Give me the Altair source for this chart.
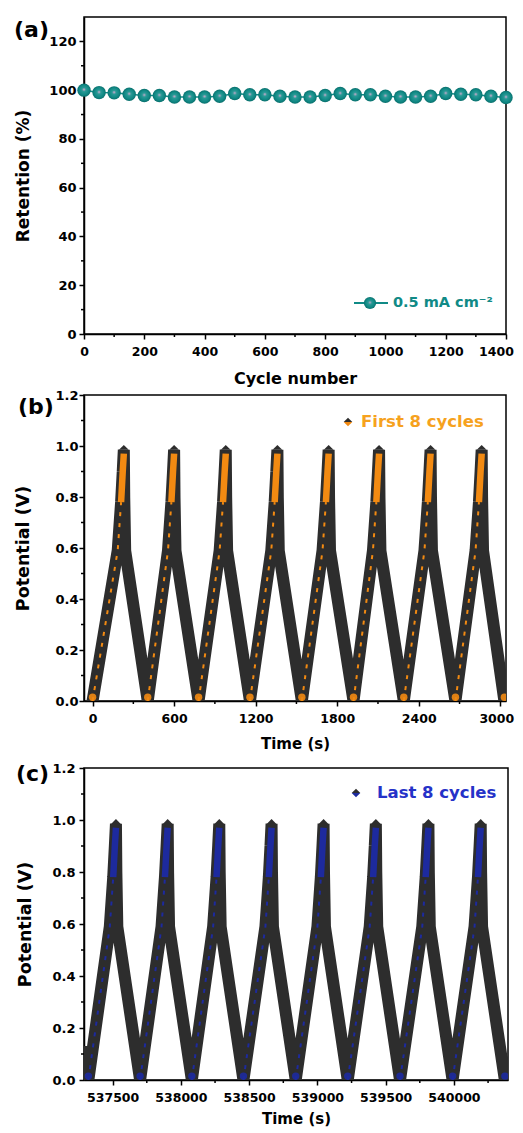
import altair as alt
import pandas as pd

FONT = "DejaVu Sans"
DARK = "#2d2d2d"
TEAL = "#108a86"
ORANGE = "#f28a12"
ORANGE_TXT = "#f6a21e"
NAVY = "#1d2a9e"
BLUE_TXT = "#2532c8"

# ---------------- panel (a): retention ----------------
cycle_a = [0, 50, 100, 150, 200, 250, 300, 350, 400, 450, 500, 550, 600, 650, 700,
           750, 800, 850, 900, 950, 1000, 1050, 1100, 1150, 1200, 1250, 1300, 1350, 1400]
retention_a = [100.0, 99.0, 98.9, 98.3, 97.8, 97.8, 97.2, 97.2, 97.2, 97.5, 98.6, 98.1,
               98.1, 97.5, 97.2, 97.2, 97.8, 98.6, 98.1, 98.1, 97.5, 97.2, 97.2, 97.5,
               98.6, 98.3, 98.1, 97.5, 97.0]
a_x_ticks = [0, 200, 400, 600, 800, 1000, 1200, 1400]
a_x_minor = [100, 300, 500, 700, 900, 1100, 1300]
a_y_ticks = [0, 20, 40, 60, 80, 100, 120]
a_y_minor = [10, 30, 50, 70, 90, 110]

# ---------------- panel (b): first 8 cycles ----------------
b_peak_t = [230, 600, 980, 1360, 1737, 2108, 2487, 2863]
b_trough_t = [0, 406, 780, 1158, 1540, 1920, 2290, 2670, 3030]
b_end = (3045, 0.04)
b_x_ticks = [0, 600, 1200, 1800, 2400, 3000]
b_x_minor = [300, 900, 1500, 2100, 2700]

# ---------------- panel (c): last 8 cycles ----------------
c_start = (537285, 0.13)
c_peak_t = [537524, 537903, 538281, 538664, 539045, 539428, 539813, 540196]
c_trough_t = [537322, 537701, 538080, 538458, 538841, 539222, 539605, 539990, 540373]
c_end = (540400, 0.09)
c_x_ticks = [537500, 538000, 538500, 539000, 539500, 540000]
c_x_minor = [537750, 538250, 538750, 539250, 539750, 540250]

v_ticks = [0.0, 0.2, 0.4, 0.6, 0.8, 1.0, 1.2]
v_minor = [0.1, 0.3, 0.5, 0.7, 0.9, 1.1]

# shape of one charge/discharge cycle read around a peak (time offset from peak, V)
rise_dt = [-45, -20, -8]
rise_v = [0.59, 0.78, 0.90]
peak_v = 0.985
fall_dt = [3, 10]
fall_v = [0.80, 0.59]

TOP_HALF = "M-1,0L0,-1L1,0Z"
BOT_HALF = "M-1,0L1,0L0,1Z"
LEFT = 75  # common left extent of every panel (plot areas share their left edge)


def one():
    return pd.DataFrame({"k": [0]})


def spacer(top, bottom, h):
    return alt.Chart(one()).mark_rule(color="white", strokeOpacity=0).encode(
        x=alt.value(-LEFT), y=alt.value(-top), y2=alt.value(h + bottom))


def label(txt, x, y, size=22, color="black", align="left"):
    return alt.Chart(one()).mark_text(
        text=txt, font=FONT, fontWeight="bold", fontSize=size, color=color,
        align=align, baseline="middle").encode(x=alt.value(x), y=alt.value(y))


def minor_ticks(xvals, yvals, xenc, yenc, h):
    mx = alt.Chart(pd.DataFrame({"x": xvals})).mark_rule(color="black", strokeWidth=1.5).encode(
        x=xenc, y=alt.value(h), y2=alt.value(h + 3))
    my = alt.Chart(pd.DataFrame({"y": yvals})).mark_rule(color="black", strokeWidth=1.5).encode(
        y=yenc, x=alt.value(0), x2=alt.value(-3))
    return mx, my


# ---------------- build panel (a) ----------------
A_W, A_H = 422, 317
ax = alt.X("x:Q", scale=alt.Scale(domain=[0, 1400], nice=False, zero=False),
           axis=alt.Axis(values=a_x_ticks, format="d", title="Cycle number", titleY=44,
                         titleBaseline="middle", titleFontSize=16, labelPadding=6, tickSize=5,
                         labelFlush=False, labelOverlap=False, labelFontSize=12.5,
                         labelOffset=alt.ExprRef("datum.value == 1400 ? -10 : 0")))
ay = alt.Y("y:Q", scale=alt.Scale(domain=[0, 130], nice=False, zero=False),
           axis=alt.Axis(values=a_y_ticks, format="d", title="Retention (%)", titleX=-61,
                         titleY=A_H / 2, titleAngle=270, titleBaseline="middle",
                         titleAlign="center", titleFontSize=17, labelPadding=3, tickSize=5,
                         labelFlush=False, labelOverlap=False))
df_a = pd.DataFrame({"x": cycle_a, "y": retention_a})
sphere = {"gradient": "radial",
          "stops": [{"offset": 0, "color": "#e2aad4"},
                    {"offset": 0.28, "color": "#2a9a96"},
                    {"offset": 0.75, "color": "#0f8884"},
                    {"offset": 1, "color": "#0a6e6b"}],
          "x1": 0.5, "y1": 0.45, "r1": 0, "x2": 0.5, "y2": 0.5, "r2": 0.5}
a_line = alt.Chart(df_a).mark_line(color=TEAL, strokeWidth=1.5).encode(x=ax, y=ay)
a_pts = alt.Chart(df_a).mark_circle(size=180, opacity=1, fill=sphere).encode(x=ax, y=ay)
a_mx, a_my = minor_ticks(a_x_minor, a_y_minor, ax, ay, A_H)
a_leg_line = alt.Chart(one()).mark_rule(color=TEAL, strokeWidth=2).encode(
    x=alt.value(270), x2=alt.value(304), y=alt.value(286))
a_leg_pt = alt.Chart(one()).mark_circle(size=150, opacity=1, fill=sphere).encode(
    x=alt.value(286), y=alt.value(286))
a_leg_txt = label("0.5 mA cm⁻²", 309, 286, size=14.5, color=TEAL)
panel_a = alt.layer(
    spacer(8, 51, A_H), a_line, a_pts, a_mx, a_my,
    a_leg_line, a_leg_pt, a_leg_txt, label("(a)", -70, 13)
).properties(width=A_W, height=A_H)


# ---------------- GCD panels ----------------
def profile(peaks, troughs, start=None, end=None):
    rows = []
    if start:
        rows.append(start)
    for k, p in enumerate(peaks):
        rows.append((troughs[k], 0.0))
        rows += [(p + d, v) for d, v in zip(rise_dt, rise_v)]
        rows.append((p, peak_v))
        rows += [(p + d, v) for d, v in zip(fall_dt, fall_v)]
    rows.append((troughs[-1], 0.0))
    if end:
        rows.append(end)
    return pd.DataFrame({"x": [r[0] for r in rows], "y": [r[1] for r in rows],
                         "i": list(range(len(rows)))})


def rising(peaks, troughs):
    xs, ys, seg, idx = [], [], [], []
    for k, p in enumerate(peaks):
        pts = [(troughs[k], 0.0)] + [(p + d, v) for d, v in zip(rise_dt[:2], rise_v[:2])]
        for j, (t, v) in enumerate(pts):
            xs.append(t); ys.append(v); seg.append(k); idx.append(j)
    return pd.DataFrame({"x": xs, "y": ys, "seg": seg, "i": idx})


def tips(peaks):
    xs, ys, seg, idx = [], [], [], []
    for k, p in enumerate(peaks):
        pts = [(p + rise_dt[1], rise_v[1]), (p + rise_dt[2], rise_v[2]), (p, 0.97)]
        for j, (t, v) in enumerate(pts):
            xs.append(t); ys.append(v); seg.append(k); idx.append(j)
    return pd.DataFrame({"x": xs, "y": ys, "seg": seg, "i": idx})


def gcd_panel(tag, peaks, troughs, start, end, domain, ticks, minor, W, H,
              top, bottom, accent, txt_color, legend_txt, leg_x, leg_y, txt_dx,
              tag_x, tag_y, y_lab_pad, y_title_x, x_title_y, label_shift):
    xe = alt.X("x:Q", scale=alt.Scale(domain=domain, nice=False, zero=False),
               axis=alt.Axis(values=ticks, format="d", title="Time (s)", titleY=x_title_y,
                             titleBaseline="middle", titleFontSize=15, labelPadding=6,
                             tickSize=5, labelFlush=False, labelOverlap=False,
                             labelFontSize=12.5, labelOffset=alt.ExprRef(label_shift)))
    ye = alt.Y("y:Q", scale=alt.Scale(domain=[0, 1.2], nice=False, zero=False),
               axis=alt.Axis(values=v_ticks, format=".1f", title="Potential (V)",
                             titleX=y_title_x, titleY=H / 2, titleAngle=270,
                             titleBaseline="middle", titleAlign="center", titleFontSize=17.5,
                             labelPadding=y_lab_pad, tickSize=5,
                             labelFlush=False, labelOverlap=False))
    prof = profile(peaks, troughs, start, end)
    band = alt.Chart(prof).mark_line(color=DARK, strokeWidth=12, strokeJoin="bevel",
                                     clip=True).encode(x=xe, y=ye, order="i:Q")
    dashes = alt.Chart(rising(peaks, troughs)).mark_line(
        color=accent, strokeWidth=2, strokeDash=[4, 7], clip=True).encode(
        x=xe, y=ye, detail="seg:N", order="i:Q")
    tip = alt.Chart(tips(peaks)).mark_line(color=accent, strokeWidth=6.5, clip=True).encode(
        x=xe, y=ye, detail="seg:N", order="i:Q")
    caps = alt.Chart(pd.DataFrame({"x": peaks, "y": [peak_v] * len(peaks)})).mark_point(
        shape=TOP_HALF, filled=True, color=DARK, size=95, opacity=1).encode(x=xe, y=ye)
    glow = alt.Chart(pd.DataFrame({"x": troughs, "y": [0.015] * len(troughs)})).mark_circle(
        color=accent, size=55, opacity=0.9, clip=True).encode(x=xe, y=ye)
    mx, my = minor_ticks(minor, v_minor, xe, ye, H)
    leg_top = alt.Chart(one()).mark_point(shape=TOP_HALF, filled=True, color=DARK, size=75,
                                          opacity=1).encode(x=alt.value(leg_x), y=alt.value(leg_y))
    leg_bot = alt.Chart(one()).mark_point(shape=BOT_HALF, filled=True, color=accent, size=75,
                                          opacity=1).encode(x=alt.value(leg_x), y=alt.value(leg_y))
    leg_txt = label(legend_txt, leg_x + txt_dx, leg_y, size=16.5, color=txt_color)
    return alt.layer(
        spacer(top, bottom, H), band, dashes, tip, caps, glow, mx, my,
        leg_top, leg_bot, leg_txt, label(tag, tag_x, tag_y)
    ).properties(width=W, height=H)


panel_b = gcd_panel("(b)", b_peak_t, b_trough_t, None, b_end, [-63, 3042], b_x_ticks,
                    b_x_minor, 422, 306, 7, 58, ORANGE, ORANGE_TXT, "First 8 cycles",
                    264, 27, 13, -66, 12, 1, -61, 42,
                    "datum.value == 3000 ? -4 : 0")
panel_c = gcd_panel("(c)", c_peak_t, c_trough_t, c_start, c_end, [537290, 540396],
                    c_x_ticks, c_x_minor, 424, 312, 7, 40, NAVY, BLUE_TXT,
                    "Last 8 cycles", 272, 25, 21, -68, 6, 4, -59, 38, "0")

chart = alt.vconcat(panel_a, panel_b, panel_c, spacing=0).properties(
    padding={"left": 0, "top": 0, "right": 0, "bottom": 0}
).configure_axis(
    domainColor="black", domainWidth=1.5, tickColor="black", tickWidth=1.5,
    labelFont=FONT, labelFontWeight="bold", labelColor="black", labelFontSize=13,
    titleFont=FONT, titleFontWeight="bold", titleColor="black", titleFontSize=16, grid=False
).configure_view(stroke="black", strokeWidth=1.5)

chart.save("out.html", embed_options={"renderer": "svg", "actions": False})
